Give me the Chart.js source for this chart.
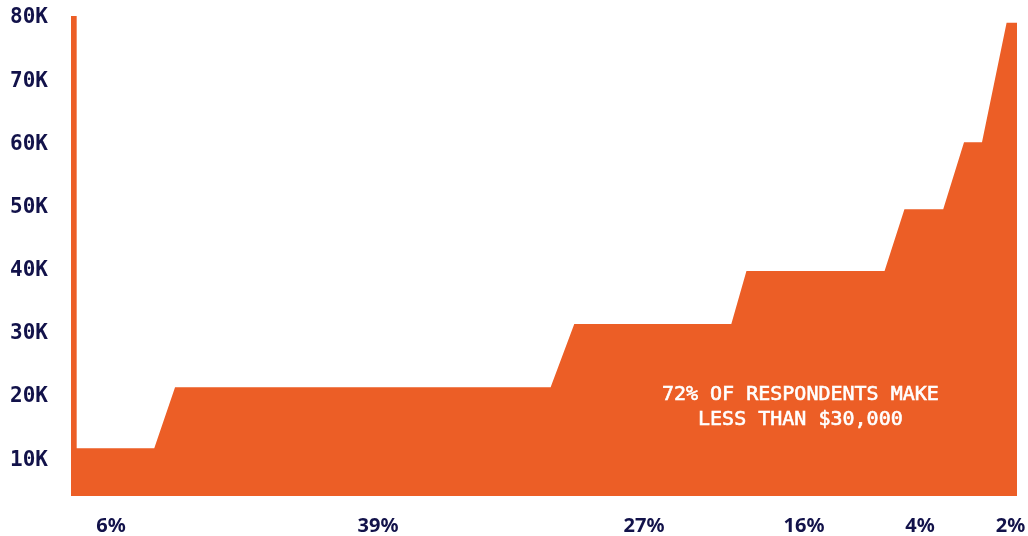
<!DOCTYPE html>
<html>
<head>
<meta charset="utf-8">
<script src="https://cdn.jsdelivr.net/npm/chart.js@4"></script>
<style>
  body { margin: 0; background: #ffffff; }
  canvas { display: block; }
</style>
</head>
<body>
<canvas id="incomeChart" width="1028" height="536"></canvas>
<script>
// Position along the respondent axis (0-100) and income at that point
var positions = [0, 0.6, 0.6, 8.8, 11.0, 50.7, 53.2, 69.8, 71.4, 86.0, 88.1, 92.2, 94.4, 96.3, 98.9, 100];
var incomes = [80000, 80000, 11550, 11550, 21210, 21210, 31230, 31230, 39620, 39620, 49390, 49390, 60000, 60000, 78940, 78940];

// Bracket share labels along the bottom
var shareLabels = ['6%', '39%', '27%', '16%', '4%', '2%'];
var sharePositions = [4.23, 32.45, 60.57, 77.48, 89.75, 99.31];

// Y axis ticks
var yTickValues = [10000, 20000, 30000, 40000, 50000, 60000, 70000, 80000];
var yTickLabels = ['10K', '20K', '30K', '40K', '50K', '60K', '70K', '80K'];

// Annotation
var noteLines = ['72% OF RESPONDENTS MAKE', 'LESS THAN $30,000'];
var notePosition = 77.1;
var noteValue = 20000;

var orange = '#ec5e26';
var navy = '#12124a';

var points = positions.map(function (p, i) {
    return { x: p, y: incomes[i] };
});

var notePlugin = {
    id: 'note',
    afterDatasetsDraw: function (chart) {
        var ctx = chart.ctx;
        var x = chart.scales.x.getPixelForValue(notePosition);
        var y = chart.scales.y.getPixelForValue(noteValue);
        ctx.save();
        ctx.fillStyle = '#ffffff';
        ctx.strokeStyle = '#ffffff';
        ctx.lineWidth = 0.6;
        ctx.font = '20px "DejaVu Sans Mono"';
        ctx.textAlign = 'center';
        ctx.textBaseline = 'middle';
        noteLines.forEach(function (line, i) {
            ctx.fillText(line, x, y + i * 24.5);
            ctx.strokeText(line, x, y + i * 24.5);
        });
        ctx.restore();
    }
};

var ctx = document.getElementById('incomeChart').getContext('2d');
var incomeChart = new Chart(ctx, {
    type: 'line',
    data: {
        datasets: [{
            data: points,
            backgroundColor: orange,
            borderColor: orange,
            borderWidth: 0,
            pointRadius: 0,
            fill: 'start',
            tension: 0
        }]
    },
    options: {
        responsive: false,
        animation: false,
        layout: {
            padding: { top: 16, right: 11, left: 0, bottom: 0 }
        },
        plugins: {
            legend: { display: false },
            tooltip: { enabled: false }
        },
        scales: {
            x: {
                type: 'linear',
                min: 0,
                max: 100,
                grid: { display: false, drawTicks: false },
                border: { display: false },
                afterBuildTicks: function (scale) {
                    scale.ticks = sharePositions.map(function (v) { return { value: v }; });
                },
                afterFit: function (scale) {
                    scale.height = 40;
                    scale.paddingLeft = 0;
                    scale.paddingRight = 0;
                },
                ticks: {
                    autoSkip: false,
                    maxRotation: 0,
                    padding: 18,
                    color: navy,
                    font: { family: '"Noto Sans"', size: 20, weight: 'bold' },
                    callback: function (value, index) {
                        return shareLabels[index];
                    }
                }
            },
            y: {
                min: 4000,
                max: 80000,
                grid: { display: false, drawTicks: false },
                border: { display: false },
                afterBuildTicks: function (scale) {
                    scale.ticks = yTickValues.map(function (v) { return { value: v }; });
                },
                afterFit: function (scale) {
                    scale.width = 71;
                    scale.paddingTop = 0;
                    scale.paddingBottom = 0;
                },
                ticks: {
                    padding: 23,
                    labelOffset: 2,
                    color: navy,
                    font: { family: '"DejaVu Sans Mono"', size: 21, weight: 'bold' },
                    callback: function (value, index) {
                        return yTickLabels[index];
                    }
                }
            }
        }
    },
    plugins: [notePlugin]
});
</script>
</body>
</html>
